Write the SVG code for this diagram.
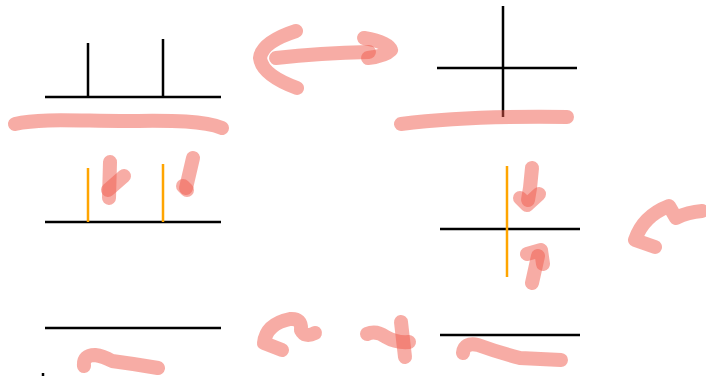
<svg xmlns="http://www.w3.org/2000/svg" width="706" height="376" viewBox="0 0 706 376">
<style>
.k{stroke:#000;stroke-width:2.5;fill:none}
.o{stroke:#ffa500;stroke-width:2.5;fill:none}
.h{stroke:#f05a4c;stroke-opacity:0.5;stroke-width:14;fill:none;stroke-linecap:round;stroke-linejoin:round}
</style>
<rect width="706" height="376" fill="#fff"/>
<g id="step1">
<path class="k" d="M45,97H221M88,43V97M163,39V97"/>
<path class="h" d="M15,124C40,118 80,121 120,121S200,119 222,128"/>
</g>
<g id="step2">
<path class="k" d="M437,68H577M503,6V117"/>
<path class="h" d="M401,124C450,118 500,116 567,117"/>
</g>
<g id="step3">
<path class="k" d="M45,222H221"/>
<path class="o" d="M88,168V222M163,164V222"/>
<path class="h" d="M110,162L109,198"/>
<path class="h" d="M124,176L108,190"/>
<path class="h" d="M193,158L186,188"/>
<path class="h" d="M183,186L187,190" stroke-width="18"/>
</g>
<g id="step4">
<path class="k" d="M440,229H580"/>
<path class="o" d="M507,166V277"/>
<path class="h" d="M532,168L530,188L528,200"/>
<path class="h" d="M520,198L527,205L539,194"/>
<path class="h" d="M527,254L541,250L543,264"/>
<path class="h" d="M538,256L532,283"/>
</g>
<g id="step5">
<path class="k" d="M45,328H221"/>
<path class="k" d="M43,373V376" stroke-width="1.5"/>
<path class="h" d="M84,366Q83,355 95,355Q103,356 112,361Q135,364 158,368"/>
</g>
<g id="step6">
<path class="k" d="M440,335H580"/>
<path class="h" d="M463,353Q464,342 478,345Q500,353 520,358L561,360"/>
</g>
<g id="connectors">
<path class="h" d="M296,31Q262,42 260,58Q262,75 297,88" stroke-width="16"/>
<path class="h" d="M276,58Q320,53 369,52"/>
<path class="h" d="M364,38Q388,42 391,50Q385,56 368,58"/>
<path class="h" d="M702,211Q688,212 676,218L669,206Q643,216 635,240L655,247" stroke-width="16"/>
<path class="h" d="M315,333Q305,338 301,330Q302,318 290,319Q266,324 264,343L282,350" stroke-width="15"/>
<path class="h" d="M367,334Q376,330 386,337Q396,343 409,342"/>
<path class="h" d="M401,322L405,357"/>
</g>
</svg>
